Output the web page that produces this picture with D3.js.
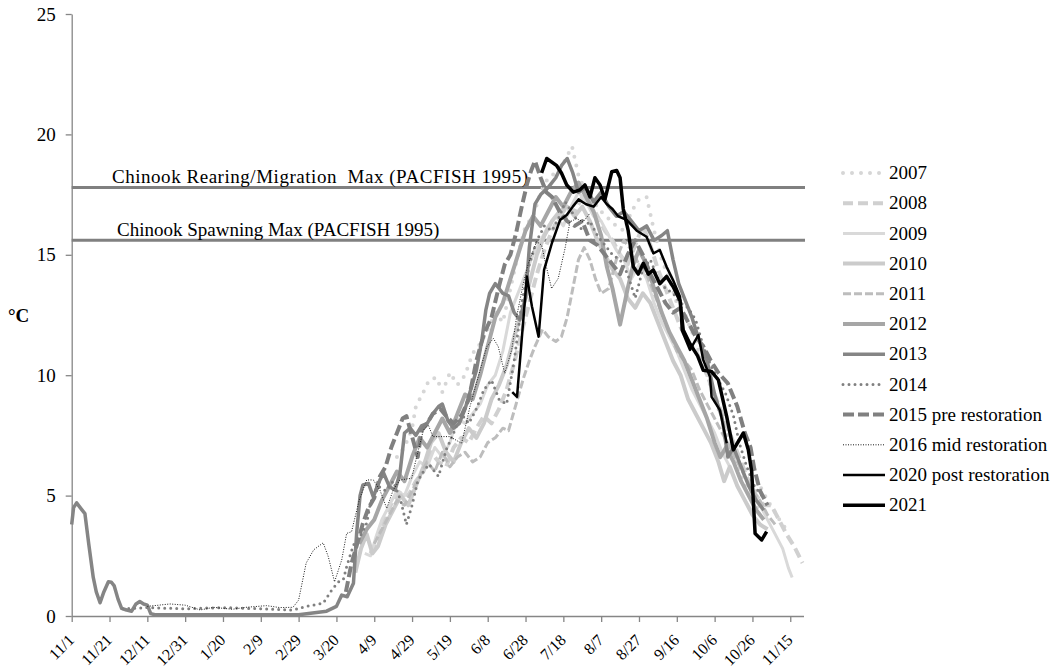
<!DOCTYPE html>
<html>
<head>
<meta charset="utf-8">
<script src="https://cdn.jsdelivr.net/npm/d3@7"></script>
<style>
  body { margin: 0; background: #fff; }
  text { font-family: "Liberation Serif", "Times New Roman", serif; fill: #000; }
</style>
</head>
<body>
<div id="chart"></div>
<script>
var svgWidth = 1052;
var svgHeight = 670;

// x = days since 11/1, y = water temperature (°C)
var tickLabels = ["11/1", "11/21", "12/11", "12/31", "1/20", "2/9", "2/29", "3/20", "4/9", "4/29",
  "5/19", "6/8", "6/28", "7/18", "8/7", "8/27", "9/16", "10/6", "10/26", "11/15"];
var tickDays = [0, 20, 40, 60, 80, 100, 120, 140, 160, 180, 200, 220, 240, 260, 280, 300, 320, 340, 360, 380];
var yTicks = [0, 5, 10, 15, 20, 25];

var rearingMax = 17.8;
var spawningMax = 15.6;

var s2007 = [[172,6.6],[176,7.0],[180,7.8],[182,8.7],[186,9.3],[189,9.8],[193,9.9],[196,9.3],[200,10.1],[204,9.6],
  [208,10.0],[212,10.9],[216,11.3],[220,11.9],[224,12.6],[228,12.2],[232,13.6],[236,15.0],[240,16.2],[244,16.6],
  [248,17.6],[252,18.2],[256,18.4],[260,18.8],[264.6,19.5],[268,18.3],[272,17.6],[276,17.2],[280,16.8],[284,16.5],
  [288,16.2],[292,16.0],[296,16.8],[300,17.3],[304,17.4],[308,16.0],[312,14.8],[316,14.0],[320,13.0],[324,12.6],
  [328,11.8],[332,10.9],[336,10.0],[340,9.0],[344,8.2],[348,7.2],[352,6.3],[356,5.4],[360,5.0],[364,5.4],
  [368,4.8],[372,4.3],[375,3.9],[379,3.5]];

var s2008 = [[158,2.6],[162,3.2],[166,4.2],[170,4.8],[174,5.2],[178,5.0],[182,5.6],[186,6.0],[190,6.8],[194,6.4],
  [198,6.2],[202,7.0],[206,7.4],[210,7.2],[214,7.8],[218,8.3],[222,8.0],[226,8.6],[230,9.4],[234,10.5],
  [238,11.8],[242,13.0],[246,14.2],[250,15.2],[254,16.0],[258,16.6],[262,17.0],[266,16.8],[270,17.4],[274,17.2],
  [278,16.6],[282,16.0],[286,15.6],[290,15.0],[294,14.6],[298,15.4],[302,16.2],[306,15.4],[310,14.4],[314,13.6],
  [318,12.8],[322,12.0],[326,11.4],[330,11.0],[334,10.4],[338,9.6],[342,8.8],[346,8.0],[350,7.2],[354,6.4],
  [358,5.6],[362,5.0],[366,4.6],[370,4.6],[374,4.0],[378,3.4],[382,2.9],[386.5,2.2]];

var s2009 = [[155,2.6],[158,2.5],[161,3.3],[164,4.0],[168,4.6],[172,5.2],[176,5.0],[180,5.8],[184,6.4],[188,6.2],
  [192,7.0],[196,6.6],[200,7.2],[204,8.2],[208,8.0],[212,8.4],[216,8.8],[220,9.6],[224,10.0],[228,11.0],
  [232,12.6],[236,13.4],[240,14.2],[244,15.0],[248,15.6],[252,16.2],[256,16.6],[260,16.2],[264,17.0],[268,17.6],
  [272,17.2],[276,16.6],[280,16.4],[284,15.8],[288,15.2],[292,14.8],[296,14.0],[300,14.6],[304,14.0],[308,13.0],
  [312,12.2],[316,11.6],[320,11.0],[324,10.2],[328,9.4],[332,8.8],[336,8.2],[340,7.6],[344,6.8],[348,6.2],
  [352,5.4],[356,4.8],[360,4.3],[364,4.6],[368,4.0],[372,3.4],[376,2.8],[379,2.0],[381,1.6]];

var s2010 = [[150,1.8],[153,2.8],[156,3.4],[159,2.6],[162,2.9],[166,3.8],[170,4.4],[174,5.0],[178,4.6],[182,5.4],
  [186,6.2],[190,7.2],[194,7.6],[198,6.8],[202,6.4],[206,7.2],[210,7.8],[214,7.4],[218,8.0],[222,9.0],
  [226,9.6],[230,10.4],[234,11.6],[238,12.6],[242,13.8],[246,15.0],[250,15.8],[254,16.4],[258,16.8],[262,17.0],
  [266,16.6],[270,17.0],[274,16.4],[278,15.6],[282,15.0],[286,14.4],[290,14.0],[294,13.2],[298,12.8],[302,13.4],
  [306,13.0],[310,12.2],[314,11.4],[318,10.6],[322,10.0],[326,9.0],[330,8.4],[334,7.8],[338,7.2],[342,6.4],
  [345,5.6],[348,6.2],[352,5.4],[356,4.8],[360,4.2],[364,3.8],[368,3.6]];

var s2011 = [[160,3.0],[164,3.6],[168,4.2],[172,4.8],[176,4.6],[180,5.2],[184,5.8],[188,6.4],[192,6.0],[196,6.8],
  [200,6.2],[204,6.6],[208,6.8],[212,6.4],[216,6.6],[220,7.2],[224,7.4],[228,7.8],[231,7.7],[235,8.8],
  [239,9.9],[242,10.6],[245,11.2],[249,11.9],[252,11.6],[256,11.4],[259,11.6],[262,12.4],[265,13.6],[268,14.8],
  [271,15.3],[274,14.8],[277,14.0],[280,13.4],[284,13.6],[288,14.8],[292,15.6],[296,15.2],[300,14.6],[304,14.2],
  [308,13.4],[312,12.6],[316,11.8],[320,11.0],[324,10.6],[328,10.2],[332,9.4],[336,8.8],[340,8.2],[344,7.6],
  [348,7.0],[352,6.4],[356,5.8],[360,5.2],[364,4.8],[368,4.2],[372,3.8]];

var s2012 = [[152,3.0],[156,3.6],[160,4.0],[164,4.8],[168,5.4],[172,6.0],[176,5.6],[180,6.6],[184,7.4],[188,7.0],
  [192,7.6],[196,8.2],[200,7.6],[204,8.4],[208,9.2],[212,9.0],[216,10.0],[220,11.2],[224,12.4],[228,13.0],
  [232,14.0],[236,15.0],[240,16.0],[244,16.6],[248,16.2],[252,16.8],[256,17.4],[260,17.0],[264,17.6],[268,18.0],
  [272,17.4],[276,16.8],[280,15.8],[283,14.5],[286,13.6],[290,12.1],[294.3,13.7],[297,14.6],[300,15.2],[304,14.6],
  [308,13.6],[312,12.6],[316,11.8],[320,11.2],[324,10.6],[328,9.8],[332,9.0],[336,8.2],[340,7.2],[343,6.6],
  [346,7.0],[350,6.4],[354,5.6],[358,5.0],[362,4.4],[366,4.0]];

var s2013 = [[0,3.8],[1,4.5],[2.6,4.7],[5,4.45],[7,4.25],[9,3.0],[11.4,1.6],[13,1.0],[15,0.55],[17,1.0],
  [19.4,1.42],[21,1.4],[22.5,1.25],[24.5,0.7],[26.4,0.32],[29,0.25],[31.7,0.2],[34,0.5],[36,0.6],[38,0.5],
  [40,0.45],[41.8,0.1],[44,0.05],[60,0.05],[80,0.05],[100,0.05],[120,0.05],[134.8,0.2],[140,0.4],[142.8,0.87],
  [145.7,0.8],[149,1.36],[150.7,3.45],[152.5,5.0],[154,5.44],[157,5.5],[159.5,4.95],[163,5.65],[165,5.93],[168,5.37],
  [171,5.23],[173.6,5.93],[176,7.6],[179,7.8],[182,7.5],[185,7.9],[188,8.0],[191,8.4],[194,8.7],[196,8.8],
  [199,8.1],[202,7.8],[205,8.0],[208,8.6],[211,9.4],[214,10.2],[217,11.5],[219,12.7],[221,13.4],[224,13.8],
  [226,13.6],[228,13.4],[231,13.3],[234,12.6],[237,12.3],[240,13.2],[242,15.3],[245,17.1],[248,17.5],[252,17.8],
  [256,18.2],[259,18.7],[262,19.0],[265,18.4],[268,17.6],[272,17.8],[276,17.2],[280,17.6],[284,17.0],[288,16.6],
  [292,16.8],[296,16.4],[300,16.0],[304,16.2],[308,15.6],[312,15.8],[315,16.0],[318,14.8],[321,13.8],[324,13.2],
  [328,12.4],[332,11.4],[336,10.6],[340,9.2],[344,8.2],[347,6.6],[350,7.0],[354,6.2],[358,5.4],[362,4.8],[366,4.4]];

var s2014 = [[27,0.3],[40,0.35],[60,0.3],[80,0.35],[100,0.3],[117,0.25],[124,0.4],[133,0.53],[137.5,1.08],[141,1.42],
  [143.6,1.5],[145.4,2.05],[147,2.46],[149,2.95],[152.5,3.3],[156,3.85],[158,4.7],[162,5.4],[166,5.2],[170,5.6],
  [174,4.8],[177,3.8],[180,4.6],[183,5.6],[186,6.0],[189,6.3],[194,5.8],[198,6.9],[202,7.6],[206,8.4],
  [210,8.0],[214,8.6],[218,9.4],[222,9.8],[226,9.0],[230,8.8],[234,10.6],[238,13.0],[242,14.6],[246,15.6],
  [250,16.2],[254,16.0],[258,16.6],[261,17.2],[266,16.6],[270,16.0],[274,16.4],[278,15.8],[282,15.4],[286,15.0],
  [290,14.8],[294,14.2],[298,13.2],[302,14.4],[306,14.8],[310,14.0],[314,13.6],[318,13.4],[322,13.0],[326,12.8],
  [330,12.3],[334,11.2],[338,10.4],[342,9.8],[346,9.2],[350,8.3],[353,7.2],[357,6.2],[361,5.4],[366,4.9]];

var s2015 = [[145,1.0],[148,2.2],[151,3.0],[154,3.85],[157,4.5],[160,4.9],[163,5.8],[166,6.2],[169,7.0],[172,7.6],
  [175,8.2],[177,8.3],[180,7.45],[183,6.6],[185,7.7],[188,8.0],[191,8.4],[195,8.6],[198,8.3],[202,8.0],
  [206,8.3],[210,9.0],[214,10.6],[218,11.7],[222,12.4],[226,13.7],[229,14.6],[232,15.0],[235,15.9],[238,17.0],
  [241,18.0],[243,18.5],[245,18.9],[248,18.2],[251,17.6],[254,17.4],[258,16.8],[262,16.4],[266,16.2],[270,16.4],
  [274,15.6],[278,15.4],[282,15.0],[286,14.6],[290,14.2],[294,15.0],[298,15.6],[302,15.0],[306,14.2],[310,13.6],
  [314,13.0],[318,12.6],[322,12.8],[326,12.2],[330,11.6],[334,11.2],[338,10.6],[342,10.1],[347,9.66],[352,8.7],
  [356,7.6],[359,7.0],[361,6.1],[364,5.2],[368,4.6]];

var s2016 = [[40,0.4],[52,0.5],[60,0.45],[68,0.25],[75,0.36],[85,0.28],[92,0.36],[103,0.43],[110,0.35],[117,0.36],
  [120,0.66],[124,2.2],[128,2.75],[133,3.04],[135.7,2.46],[139,1.42],[142.8,2.33],[145.4,3.43],[148,3.5],[152,4.8],
  [156,5.65],[159.5,5.65],[163,5.23],[166.6,4.47],[170,5.23],[173.6,5.65],[179.8,5.72],[182.4,6.6],[186,7.72],[188.6,7.93],
  [191,7.45],[195,7.45],[200,7.45],[206.2,7.17],[210.6,8.69],[215,9.94],[219.5,11.18],[223,11.53],[225.6,11.18],[229,10.08],
  [232.7,11.05],[235.3,12.43],[238.8,13.8],[241.5,14.65],[245.9,15.55],[248.5,15.4],[251.2,14.44],[253.8,13.6],[257.3,14.02],[260.9,15.27],
  [263.5,16.37],[267,16.5],[270.5,16.37],[274,16.72]];

var s2020 = [[233,9.3],[235.5,9.1],[238,11.5],[240.7,14.1],[243.4,12.85],[246.9,11.6],[249.8,14.37],[254,15.5],[258.3,16.45],[261.8,16.65],
  [265,17.0],[268,17.3],[272,17.1],[276,17.0],[280,17.4],[283,17.1],[286,16.9],[289,16.6],[293.5,16.45],[298.8,16.0],
  [304,15.75],[307.6,15.06],[311,15.2],[314.6,14.5],[318,13.95],[321.7,13.26],[322.6,11.88],[327,11.05],[331.4,11.67],[334,10.63],
  [337.5,9.94],[338.4,9.1],[342.8,8.55],[346.4,7.17]];

var s2021 = [[248.5,18.4],[251.2,19.0],[256.5,18.7],[259,18.4],[261.8,17.9],[265.3,17.6],[268.8,17.7],[271.4,17.9],[274.1,17.4],[276.7,18.2],
  [279.4,17.9],[282,17.3],[285.6,18.45],[288.2,18.5],[290,18.2],[291.7,16.9],[294.3,16.0],[297,14.5],[299.6,14.2],[302.3,14.65],
  [304.9,14.2],[307.6,14.37],[311,13.8],[314.6,14.1],[318,13.68],[321.7,13.1],[323.4,11.88],[327,11.3],[331,10.8],[334,10.2],
  [338.4,10.15],[342,9.8],[346.4,8.28],[349.9,6.9],[355.2,7.6],[357.8,6.9],[359.6,6.0],[361.4,3.43],[364.9,3.16],[367.5,3.5]];

var seriesNames = ["2007", "2008", "2009", "2010", "2011", "2012", "2013", "2014",
  "2015 pre restoration", "2016 mid restoration", "2020 post restoration", "2021"];
var seriesData = [s2007, s2008, s2009, s2010, s2011, s2012, s2013, s2014, s2015, s2016, s2020, s2021];

// line styles, same order as seriesNames
var styles = [
  { color: "#d6d6d6", width: 4, dash: "0 9", cap: "round" },
  { color: "#d0d0d0", width: 4, dash: "10 5", cap: "butt" },
  { color: "#d9d9d9", width: 3, dash: null, cap: "butt" },
  { color: "#cbcbcb", width: 4, dash: null, cap: "butt" },
  { color: "#bdbdbd", width: 3, dash: "8 3", cap: "butt" },
  { color: "#a6a6a6", width: 4, dash: null, cap: "butt" },
  { color: "#858585", width: 3.5, dash: null, cap: "butt" },
  { color: "#808080", width: 3, dash: "0 6", cap: "round" },
  { color: "#808080", width: 4, dash: "11 4", cap: "butt" },
  { color: "#1a1a1a", width: 1, dash: "1 1.5", cap: "butt" },
  { color: "#000000", width: 2.5, dash: null, cap: "butt" },
  { color: "#000000", width: 3.5, dash: null, cap: "butt" }
];

var x = d3.scaleLinear().domain([0, 387]).range([71.7, 803.5]);
var y = d3.scaleLinear().domain([0, 25]).range([616, 14]);

var svg = d3.select("#chart")
  .append("svg")
  .attr("width", svgWidth)
  .attr("height", svgHeight);

// axes
var yAxis = svg.append("g")
  .attr("transform", "translate(71.7,0)")
  .call(d3.axisLeft(y).tickValues(yTicks).tickSize(6).tickSizeOuter(0).tickPadding(10));

var xAxis = svg.append("g")
  .attr("transform", "translate(0,616)")
  .call(d3.axisBottom(x).tickValues(tickDays).tickSize(6).tickSizeOuter(0)
    .tickFormat((d, i) => tickLabels[i]));

svg.selectAll(".domain, .tick line").attr("stroke", "#868686").attr("stroke-width", 1.3);
yAxis.selectAll("text").attr("font-size", 19);

xAxis.selectAll("text")
  .attr("font-size", 16)
  .attr("text-anchor", "end")
  .attr("y", 0)
  .attr("dy", "0.35em")
  .attr("transform", "translate(-1,21) rotate(-45)");

svg.append("text")
  .attr("x", 8)
  .attr("y", 322)
  .attr("font-size", 19)
  .attr("font-weight", "bold")
  .text("°C");

// PACFISH reference lines
svg.append("line")
  .attr("x1", x(0)).attr("x2", 805)
  .attr("y1", y(rearingMax)).attr("y2", y(rearingMax))
  .attr("stroke", "#808080").attr("stroke-width", 3);
svg.append("line")
  .attr("x1", x(0)).attr("x2", 805)
  .attr("y1", y(spawningMax)).attr("y2", y(spawningMax))
  .attr("stroke", "#808080").attr("stroke-width", 3);

svg.append("text")
  .attr("x", 112).attr("y", y(rearingMax) - 4)
  .attr("font-size", 19)
  .style("white-space", "pre")
  .attr("textLength", 416)
  .attr("lengthAdjust", "spacing")
  .text("Chinook Rearing/Migration  Max (PACFISH 1995)");
svg.append("text")
  .attr("x", 117).attr("y", y(spawningMax) - 4)
  .attr("font-size", 19)
  .text("Chinook Spawning Max (PACFISH 1995)");

var line = d3.line()
  .x(d => x(d[0]))
  .y(d => y(d[1]));

svg.selectAll(".series")
  .data(seriesData)
  .enter()
  .append("path")
  .attr("class", "series")
  .attr("fill", "none")
  .attr("d", line)
  .attr("stroke", (d, i) => styles[i].color)
  .attr("stroke-width", (d, i) => styles[i].width)
  .attr("stroke-dasharray", (d, i) => styles[i].dash)
  .attr("stroke-linecap", (d, i) => styles[i].cap)
  .attr("stroke-linejoin", "round");

// legend
var legend = svg.selectAll(".legend")
  .data(seriesNames)
  .enter()
  .append("g")
  .attr("class", "legend")
  .attr("transform", (d, i) => `translate(0, ${173 + i * 30.2})`);

legend.append("line")
  .attr("x1", 843).attr("x2", 885)
  .attr("y1", 0).attr("y2", 0)
  .attr("stroke", (d, i) => styles[i].color)
  .attr("stroke-width", (d, i) => styles[i].width)
  .attr("stroke-dasharray", (d, i) => styles[i].dash)
  .attr("stroke-linecap", (d, i) => styles[i].cap);

legend.append("text")
  .attr("x", 889)
  .attr("y", 0)
  .attr("dy", "0.33em")
  .attr("font-size", 19)
  .text(d => d);
</script>
</body>
</html>
